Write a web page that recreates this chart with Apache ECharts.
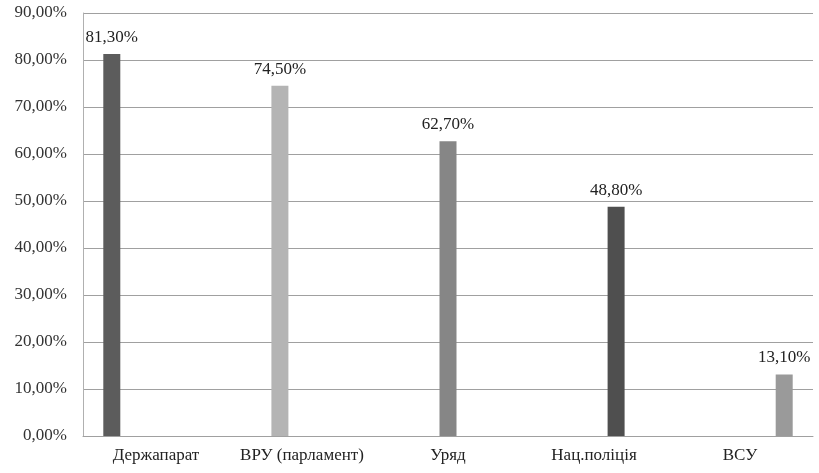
<!DOCTYPE html>
<html>
<head>
<meta charset="utf-8">
<script src="https://cdn.jsdelivr.net/npm/echarts@6/dist/echarts.min.js"></script>
<style>
html,body{margin:0;padding:0;background:#fff;}
#chart{width:819px;height:473px;}
</style>
</head>
<body>
<div id="chart"></div>
<script>
const categories = ['Держапарат', 'ВРУ (парламент)', 'Уряд', 'Нац.поліція', 'ВСУ'];
const values = [81.3, 74.5, 62.7, 48.8, 13.1];
const colors = ['#5c5c5c', '#b4b4b4', '#868686', '#4f4f4f', '#9a9a9a'];
const yTicks = [0, 10, 20, 30, 40, 50, 60, 70, 80, 90];

const fmt = v => v.toFixed(2).replace('.', ',') + '%';
const serif = '"Liberation Serif", "DejaVu Serif", serif';

const series = categories.map((c, i) => ({
  type: 'bar',
  name: c,
  barWidth: 17,
  barGap: '30%',
  data: categories.map((_, j) => (j === i ? values[i] : '-')),
  itemStyle: { color: colors[i] },
  label: {
    show: true,
    position: 'top',
    distance: 8,
    formatter: p => fmt(p.value),
    fontFamily: serif,
    fontSize: 17,
    color: '#222'
  }
}));

const chart = echarts.init(document.getElementById('chart'));
chart.setOption({
  animation: false,
  grid: { left: 83, right: 6, top: 13, bottom: 37, containLabel: false },
  xAxis: {
    type: 'category',
    data: categories,
    axisLine: { show: true, lineStyle: { color: '#a0a0a0', width: 1 } },
    axisTick: { show: false },
    axisLabel: { interval: 0, fontFamily: serif, fontSize: 17, color: '#222', margin: 11 }
  },
  yAxis: {
    type: 'value',
    min: yTicks[0],
    max: yTicks[yTicks.length - 1],
    interval: 10,
    axisLine: { show: true, lineStyle: { color: '#b0b0b0', width: 1 } },
    axisTick: { show: false },
    splitLine: { show: true, lineStyle: { color: '#a0a0a0', width: 1 } },
    axisLabel: { fontFamily: serif, fontSize: 17, color: '#333', margin: 16, formatter: v => fmt(v) }
  },
  series: series
});
</script>
</body>
</html>
